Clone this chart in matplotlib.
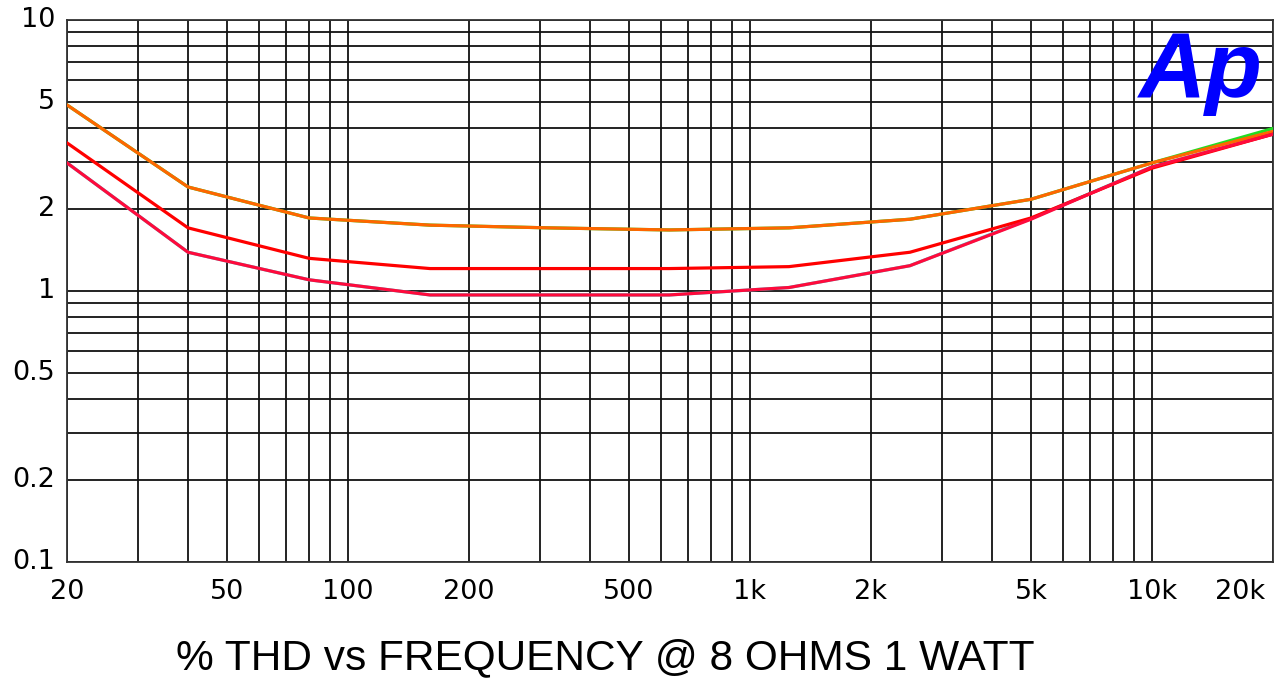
import matplotlib.pyplot as plt
from matplotlib.ticker import FixedLocator, NullFormatter

# frequencies (Hz), octave steps
freq = [20, 40, 80, 160, 315, 630, 1250, 2500, 5000, 10000, 20000]

# % THD readings per trace
thd_green = [4.86, 2.42, 1.86, 1.75, 1.71, 1.68, 1.71, 1.84, 2.18, 2.97, 3.98]
thd_cyan = [2.97, 1.39, 1.10, 0.967, 0.967, 0.967, 1.03, 1.24, 1.85, 2.87, 3.80]
thd_orange = [4.86, 2.42, 1.86, 1.75, 1.71, 1.68, 1.71, 1.84, 2.18, 2.97, 3.88]
thd_red = [3.52, 1.71, 1.32, 1.21, 1.21, 1.21, 1.23, 1.39, 1.86, 2.84, 3.79]
thd_pink = [2.97, 1.39, 1.10, 0.967, 0.967, 0.967, 1.03, 1.24, 1.84, 2.87, 3.79]

x_major = [20, 50, 100, 200, 500, 1000, 2000, 5000, 10000, 20000]
x_labels = ['20', '50', '100', '200', '500', '1k', '2k', '5k', '10k', '20k']
x_minor = [30, 40, 60, 70, 80, 90, 300, 400, 600, 700, 800, 900,
           3000, 4000, 6000, 7000, 8000, 9000]
y_major = [0.1, 0.2, 0.5, 1, 2, 5, 10]
y_labels = ['0.1', '0.2', '0.5', '1', '2', '5', '10']
y_minor = [0.3, 0.4, 0.6, 0.7, 0.8, 0.9, 3, 4, 6, 7, 8, 9]

plt.rcParams['font.family'] = ['Liberation Sans', 'DejaVu Sans']

fig = plt.figure(figsize=(12.78, 6.83), dpi=100)
ax = fig.add_axes([67 / 1278, 121 / 683, 1206 / 1278, 542 / 683])
ax.set_xscale('log')
ax.set_yscale('log')
ax.set_xlim(20, 20000)
ax.set_ylim(0.1, 10)

ax.plot(freq, thd_green, color='#22dd22', lw=2.3, zorder=3)
ax.plot(freq, thd_cyan, color='#33dddd', lw=2.3, zorder=3)
ax.plot(freq, thd_orange, color='#ff6600', lw=2.3, zorder=4)
ax.plot(freq, thd_red, color='#ff0000', lw=2.3, zorder=5)
ax.plot(freq, thd_pink, color='#ff0a3c', lw=2.3, zorder=6)

ax.xaxis.set_major_locator(FixedLocator(x_major))
ax.xaxis.set_minor_locator(FixedLocator(x_minor))
ax.xaxis.set_minor_formatter(NullFormatter())
ax.set_xticklabels([])
ax.yaxis.set_major_locator(FixedLocator(y_major))
ax.yaxis.set_minor_locator(FixedLocator(y_minor))
ax.yaxis.set_minor_formatter(NullFormatter())
ax.set_yticklabels([])
ax.tick_params(which='both', length=0)
ax.grid(which='both', color='#111111', lw=1.3, zorder=1)
ax.set_axisbelow(True)
for s in ax.spines.values():
    s.set_color('#333333')
    s.set_linewidth(1.3)

# tick labels as text so the last one can sit inside the figure
for i, (v, t) in enumerate(zip(x_major, x_labels)):
    ha = 'right' if i == len(x_major) - 1 else 'center'
    dx = -8 if ha == 'right' else 0
    ax.annotate(t, (v, 0.1), xytext=(dx, -30), textcoords='offset pixels',
                ha=ha, va='center', fontsize=19.5, family='DejaVu Sans')
for v, t in zip(y_major, y_labels):
    ax.annotate(t, (20, v), xytext=(-12, 0), textcoords='offset pixels',
                ha='right', va='center', fontsize=19.5, family='DejaVu Sans')

fig.text(605 / 1278, 1 - 658 / 683, '% THD vs FREQUENCY @ 8 OHMS 1 WATT',
         ha='center', va='center', fontsize=30.5)

# Ap logo
fig.text(1201 / 1278, 1 - 73 / 683, 'Ap', ha='center', va='center',
         fontsize=67, fontweight='bold', fontstyle='italic', color='#0000ff')

fig.savefig('out.png', dpi=100)
